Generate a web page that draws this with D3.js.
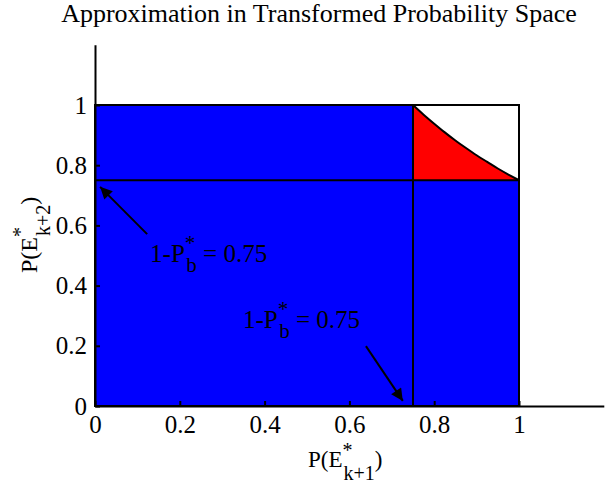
<!DOCTYPE html>
<html><head><meta charset="utf-8">
<script src="https://cdn.jsdelivr.net/npm/d3@7"></script>
<style>
html,body{margin:0;padding:0;background:#fff;}
svg{display:block;}
svg text{font-family:"Liberation Serif","Times New Roman",serif;fill:#000;}
</style></head>
<body>
<div id="chart"></div>
<script>
// ---- data ----
const xTicks = [0, 0.2, 0.4, 0.6, 0.8, 1];
const yTicks = [0, 0.2, 0.4, 0.6, 0.8, 1];
const threshold = 0.75;               // 1 - P_b*
const regionMax = 1;                  // unit square
const curveX = [0.75, 0.775, 0.8, 0.825, 0.85, 0.875, 0.9, 0.925, 0.95, 0.975, 1.0];
const curveY = [1.0, 0.968, 0.938, 0.909, 0.882, 0.857, 0.833, 0.811, 0.789, 0.769, 0.75];
const annotations = [
  {label: "0.75", textX: 0.13, textY: 0.478, fromX: 0.123, fromY: 0.571, toX: 0.012, toY: 0.728},
  {label: "0.75", textX: 0.349, textY: 0.259, fromX: 0.639, fromY: 0.199, toX: 0.726, toY: 0.017}
];
const titleText = "Approximation in Transformed Probability Space";

// ---- layout ----
const W = 605, H = 487;
const x = d3.scaleLinear().domain([0, 1.2]).range([95, 95 + 424 * 1.2]);
const y = d3.scaleLinear().domain([0, 1.2]).range([406, 406 - 301 * 1.2]);

const svg = d3.select("#chart").append("svg").attr("width", W).attr("height", H);

// blue unit square
svg.append("rect")
  .attr("x", x(0)).attr("y", y(regionMax))
  .attr("width", x(regionMax) - x(0)).attr("height", y(0) - y(regionMax))
  .attr("fill", "#0000ff");
// white corner
svg.append("rect")
  .attr("x", x(threshold)).attr("y", y(regionMax))
  .attr("width", x(regionMax) - x(threshold)).attr("height", y(threshold) - y(regionMax))
  .attr("fill", "#ffffff");
// red region under curve
const pts = curveX.map((v, i) => [v, curveY[i]]);
const line = d3.line().x(d => x(d[0])).y(d => y(d[1])).curve(d3.curveNatural);
svg.append("path")
  .attr("d", line(pts) + `L${x(threshold)},${y(threshold)}Z`)
  .attr("fill", "#ff0000");
svg.append("path")
  .attr("d", line(pts)).attr("fill", "none").attr("stroke", "#000").attr("stroke-width", 2);

// outlines
svg.append("rect")
  .attr("x", x(0)).attr("y", y(regionMax))
  .attr("width", x(regionMax) - x(0)).attr("height", y(0) - y(regionMax))
  .attr("fill", "none").attr("stroke", "#000").attr("stroke-width", 2);
svg.append("line")
  .attr("x1", x(0)).attr("x2", x(regionMax)).attr("y1", y(threshold)).attr("y2", y(threshold))
  .attr("stroke", "#000").attr("stroke-width", 2);
svg.append("line")
  .attr("x1", x(threshold)).attr("x2", x(threshold)).attr("y1", y(0)).attr("y2", y(regionMax))
  .attr("stroke", "#000").attr("stroke-width", 2);

// axes
const fmt = d => d === 0 ? "0" : d === 1 ? "1" : d3.format(".1f")(d);
const xAxis = svg.append("g").attr("transform", `translate(0,${y(0)})`)
  .call(d3.axisBottom(x).tickValues(xTicks).tickSizeInner(-5).tickSizeOuter(0).tickPadding(10).tickFormat(fmt));
const yAxis = svg.append("g").attr("transform", `translate(${x(0)},0)`)
  .call(d3.axisLeft(y).tickValues(yTicks).tickSizeInner(-5).tickSizeOuter(0).tickPadding(8).tickFormat(fmt));
[xAxis, yAxis].forEach(g => {
  g.attr("font-family", null).attr("font-size", null);
  g.select(".domain").attr("stroke", "#000").attr("stroke-width", 2);
  g.selectAll(".tick line").attr("stroke", "#000").attr("stroke-width", 2);
  g.selectAll(".tick text").style("font-size", "25px");
});
xAxis.selectAll(".tick text").attr("dy", "0.68em");

// title
svg.append("text").attr("x", 319).attr("y", 22).attr("text-anchor", "middle")
  .style("font-size", "26px").text(titleText);

// x label
const xl = svg.append("text").attr("x", 308).attr("y", 467).style("font-size", "23px");
xl.append("tspan").text("P(E");
xl.append("tspan").attr("dy", -10).style("font-size", "20px").text("*");
xl.append("tspan").attr("dx", -9).attr("dy", 23).style("font-size", "20px").text("k+1");
xl.append("tspan").attr("dy", -13).text(")");

// y label
const yl = svg.append("text").attr("transform", "translate(37,273) rotate(-90)")
  .style("font-size", "24px");
yl.append("tspan").text("P(E");
yl.append("tspan").attr("dy", -10).style("font-size", "20px").text("*");
yl.append("tspan").attr("dx", -9).attr("dy", 23).style("font-size", "20px").text("k+2");
yl.append("tspan").attr("dy", -13).text(")");

// annotations with arrows
svg.append("defs").append("marker")
  .attr("id", "ah").attr("viewBox", "0 0 10 10").attr("refX", 10).attr("refY", 5)
  .attr("markerWidth", 8).attr("markerHeight", 6).attr("markerUnits", "strokeWidth")
  .attr("orient", "auto")
  .append("path").attr("d", "M0,0L10,5L0,10Z").attr("fill", "#000");

annotations.forEach(a => {
  svg.append("line")
    .attr("x1", x(a.fromX)).attr("y1", y(a.fromY)).attr("x2", x(a.toX)).attr("y2", y(a.toY))
    .attr("stroke", "#000").attr("stroke-width", 2).attr("marker-end", "url(#ah)");
  const t = svg.append("text").attr("x", x(a.textX)).attr("y", y(a.textY))
    .style("font-size", "25px");
  t.append("tspan").text("1-P");
  t.append("tspan").attr("dy", -12).style("font-size", "21px").text("*");
  t.append("tspan").attr("dx", -9).attr("dy", 22).style("font-size", "21px").text("b");
  t.append("tspan").attr("dy", -10).text(" = " + a.label);
});
</script>
</body></html>
